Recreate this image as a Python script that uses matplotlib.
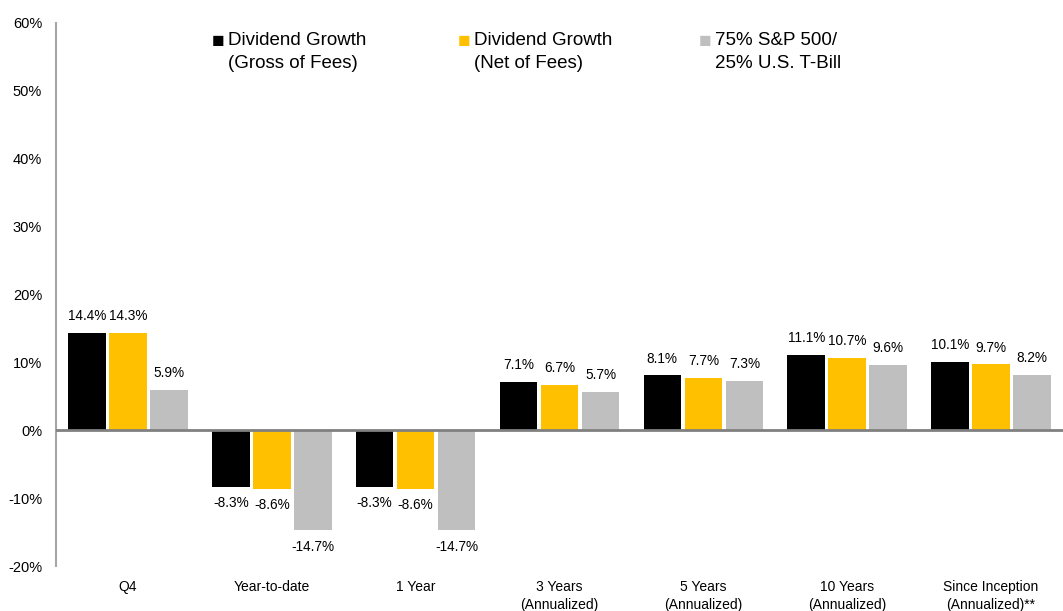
import numpy as np
import matplotlib.pyplot as plt

plt.rcParams['font.family'] = ['Liberation Sans', 'DejaVu Sans']

# -----------------------------
# Data
# -----------------------------
categories = ["Q4", "Year-to-date", "1 Year", "3 Years\n(Annualized)",
              "5 Years\n(Annualized)", "10 Years\n(Annualized)",
              "Since Inception\n(Annualized)**"]
gross = [14.4, -8.3, -8.3, 7.1, 8.1, 11.1, 10.1]
net = [14.3, -8.6, -8.6, 6.7, 7.7, 10.7, 9.7]
bench = [5.9, -14.7, -14.7, 5.7, 7.3, 9.6, 8.2]

series_labels = ["Dividend Growth\n(Gross of Fees)",
                 "Dividend Growth\n(Net of Fees)",
                 "75% S&P 500/\n25% U.S. T-Bill"]
colors = ["#000000", "#FFC000", "#BFBFBF"]
yticks = [-20, -10, 0, 10, 20, 30, 40, 50, 60]

fig = plt.figure(figsize=(10.63, 6.11), dpi=100)
ax = fig.add_axes([56 / 1063, 1 - 566 / 611, 1 - 56 / 1063, (566 - 23) / 611])

x = np.arange(len(categories))
step = 0.285
width = 0.262
for i, (vals, col) in enumerate(zip([gross, net, bench], colors)):
    pos = x + (i - 1) * step
    bars = ax.bar(pos, vals, width=width, color=col, zorder=2)
    for b, v in zip(bars, vals):
        xc = b.get_x() + b.get_width() / 2
        if v >= 0:
            ax.annotate(f"{v:.1f}%", (xc, v), xytext=(0, 7), textcoords="offset points",
                        ha="center", va="bottom", fontsize=9.8)
        else:
            ax.annotate(f"{v:.1f}%", (xc, v), xytext=(0, -7), textcoords="offset points",
                        ha="center", va="top", fontsize=9.8)

ax.axhline(0, color="#808080", lw=2, zorder=3)
ax.set_xlim(-0.5, len(categories) - 0.5)
ax.set_ylim(-20, 60)
ax.set_yticks(yticks)
ax.set_yticklabels([f"{t}%" for t in yticks], fontsize=10.5)
ax.set_xticks(x)
ax.set_xticklabels(categories, fontsize=10, linespacing=1.4)
ax.tick_params(axis="both", length=0)
ax.tick_params(axis="y", pad=10)
ax.tick_params(axis="x", pad=10)

for s in ["top", "right", "bottom"]:
    ax.spines[s].set_visible(False)
ax.spines["left"].set_color("#A6A6A6")
ax.spines["left"].set_linewidth(1.5)

# legend drawn as text with square markers
leg_x = [212, 458, 699]
for lx, lab, col in zip(leg_x, series_labels, colors):
    fig.text(lx / 1063, 1 - 42 / 611, "\u25A0", color=col, fontsize=15,
             ha="left", va="center")
    fig.text((lx + 16) / 1063, 1 - 32 / 611, lab, fontsize=13.5,
             ha="left", va="top", linespacing=1.5)

fig.savefig("out.png", dpi=100)
